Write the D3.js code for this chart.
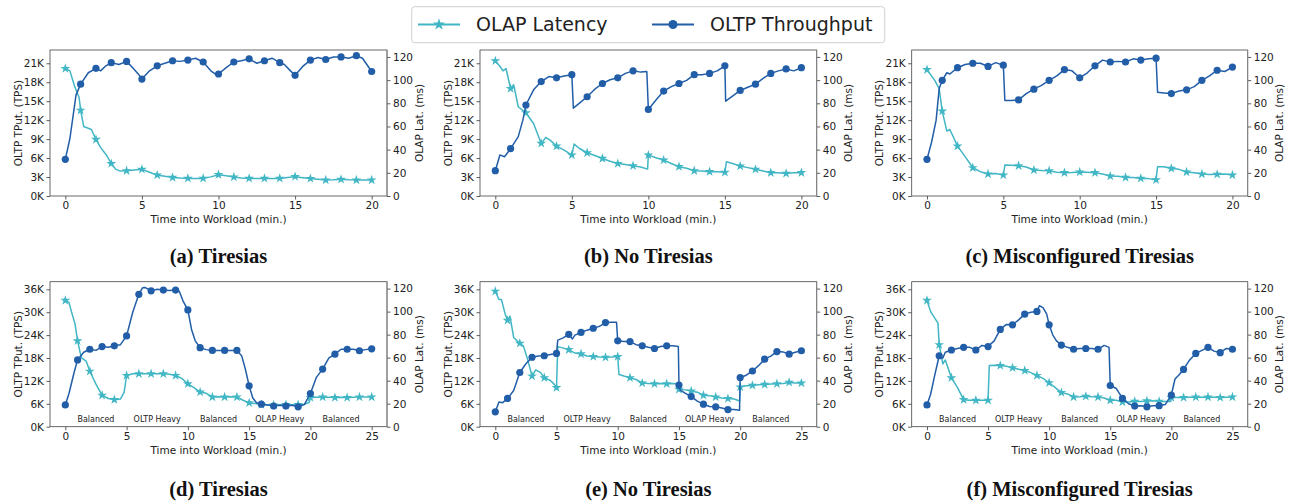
<!DOCTYPE html>
<html>
<head>
<meta charset="utf-8">
<script src="https://cdn.jsdelivr.net/npm/d3@7"></script>
<style>
  html, body { margin: 0; padding: 0; background: #fff; }
  svg { display: block; }
</style>
</head>
<body>
<svg id="chart" width="1289" height="502"></svg>
<script>
// ---------------- DATA (time in minutes, throughput in K TPS, latency in ms) ----------------
const seriesNames = ["OLAP Latency", "OLTP Throughput"];
const captions = ["(a) Tiresias", "(b) No Tiresias", "(c) Misconfigured Tiresias",
                  "(d) Tiresias", "(e) No Tiresias", "(f) Misconfigured Tiresias"];
const phaseLabels = ["Balanced", "OLTP Heavy", "Balanced", "OLAP Heavy", "Balanced"];
const phaseCenters = [2.5, 7.5, 12.5, 17.5, 22.5];
const xTicksTop = [0, 5, 10, 15, 20];
const xTicksBottom = [0, 5, 10, 15, 20, 25];
const yLeftTicksTop = [0, 3, 6, 9, 12, 15, 18, 21];
const yLeftTicksBottom = [0, 6, 12, 18, 24, 30, 36];
const yRightTicks = [0, 20, 40, 60, 80, 100, 120];

const aTput = [[0,5.8],[0.3,9.1],[0.7,16],[1,17.7],[1.5,19.5],[2,20.2],[2.3,19.8],[2.6,20.5],[3,21.1],[3.5,20.8],[4,21.3],[4.4,20.3],[4.8,19.2],[5,18.5],[5.5,19.8],[6,20.6],[6.5,21.0],[7,21.4],[7.5,21.3],[8,21.5],[8.5,21.8],[9,21.2],[9.5,19.8],[9.8,19.3],[10,19.3],[10.5,20.3],[11,21.2],[11.5,21.4],[12,21.7],[12.5,21.0],[13,21.4],[13.5,21.8],[14,21.1],[14.3,20.8],[14.7,19.8],[15,19.1],[15.5,20.5],[16,21.5],[16.5,21.9],[17,21.6],[17.5,22.0],[18,22.0],[18.5,21.8],[19,22.2],[19.4,21.8],[20,19.7]];
const aLat = [[0,110],[0.3,108],[0.6,95],[0.9,85],[1,74],[1.2,60],[1.7,57.4],[2,48.8],[2.3,42],[2.7,35],[3,28],[3.3,23],[3.6,21.5],[4,21.8],[4.5,22.5],[5,23],[5.5,20.5],[6,18],[6.5,17],[7,16],[7.5,15.5],[8,15.2],[8.5,15.2],[9,15.2],[9.5,16.5],[10,18.4],[10.5,17.5],[11,16.4],[11.5,15.5],[12,15.2],[12.5,15.2],[13,15.2],[13.5,15.2],[14,15.2],[14.5,16],[15,16.7],[15.5,15.8],[16,15],[16.5,14.5],[17,13.8],[17.5,14],[18,14.4],[18.5,14],[19,13.8],[19.5,13.8],[20,13.8]];

const bTput = [[0,4.0],[0.3,6.5],[0.6,6.2],[1,7.5],[1.5,9.4],[1.8,12],[2,14.4],[2.5,16.8],[3,18.1],[3.5,18.9],[4,18.7],[4.5,19.0],[5,19.2],[5.1,13.9],[5.5,14.7],[6,15.7],[6.5,16.9],[7,17.8],[7.5,18.4],[8,18.7],[8.5,19.4],[9,19.8],[9.5,19.6],[9.9,19.7],[10,13.7],[10.5,15.2],[11,16.6],[11.5,17.3],[12,17.8],[12.5,18.3],[13,19.2],[13.5,19.2],[14,19.4],[14.5,19.8],[15,20.6],[15.05,15.0],[15.5,15.8],[16,16.7],[16.5,17.2],[17,17.7],[17.5,18.6],[18,19.4],[18.5,19.8],[19,20.1],[19.5,19.8],[20,20.3]];
const bLat = [[0,116.6],[0.3,112],[0.5,108],[0.7,110],[1,92.7],[1.2,96],[1.5,77],[2,71.8],[2.5,62.6],[3,45.4],[3.3,50.5],[3.6,48],[4,43],[4.5,39.6],[5,35.3],[5.15,44.8],[5.5,41],[6,37.3],[6.5,35],[7,32.4],[7.5,30],[8,28],[8.5,27.2],[9,26],[9.5,25],[9.95,23.2],[10,35.3],[10.5,33],[11,31],[11.5,28],[12,25.3],[12.5,24],[13,21.8],[13.5,21.5],[14,21],[14.5,21],[15,20.4],[15.1,29.6],[15.5,28],[16,25.8],[16.5,24.5],[17,23],[17.5,21.5],[18,20.1],[18.5,20.1],[19,19.5],[19.5,20],[20,20.1]];

const cTput = [[0,5.8],[0.3,8.5],[0.6,12],[0.8,17],[1,18.3],[1.3,19.5],[1.5,19.3],[2,20.3],[2.5,20.8],[3,21.0],[3.5,21.0],[4,20.5],[4.5,21.1],[5,20.7],[5.1,15.1],[5.5,15.1],[6,15.2],[6.5,16.2],[7,16.9],[7.5,17.5],[8,18.3],[8.5,19.0],[9,20.0],[9.5,19.8],[10,18.7],[10.5,19.5],[11,20.6],[11.5,21.5],[12,21.2],[12.5,21.3],[13,21.2],[13.5,21.7],[14,21.5],[14.5,21.7],[15,21.8],[15.1,16.4],[15.5,16.3],[16,16.2],[16.5,16.6],[17,16.8],[17.5,17.3],[18,18.3],[18.5,19.0],[19,19.9],[19.5,19.7],[20,20.4]];
const cLat = [[0,109],[0.5,100],[0.8,92.7],[1,73.2],[1.3,56],[1.5,57.4],[2,43],[2.5,34],[3,24.4],[3.5,21],[4,19],[4.5,19.5],[5,18],[5.1,26.7],[5.5,26.5],[6,26.1],[6.5,25],[7,22.4],[7.5,22],[8,21.8],[8.5,20.5],[9,20.1],[9.5,20.2],[10,20.7],[10.5,20.5],[11,20.1],[11.5,19],[12,17.2],[12.5,17],[13,16],[13.5,16],[14,15.2],[14.5,15],[15,14],[15.1,25.3],[15.5,25.2],[16,23.8],[16.5,23],[17,20.7],[17.5,20],[18,19],[18.5,18.5],[19,18.7],[19.5,19],[20,18.1]];

const dTput = [[0,5.7],[0.3,8.7],[0.7,14],[1,17.5],[1.5,19.5],[2,20.3],[2.5,20.0],[3,21.0],[3.5,20.8],[4,21.2],[4.5,21.5],[5,23.8],[5.5,30],[6,34.7],[6.3,36.4],[6.5,36.5],[7,35.6],[7.5,36],[8,35.8],[8.5,35.7],[9,35.8],[9.3,35.5],[9.6,33],[10,30.6],[10.3,25.5],[10.6,22.5],[11,20.7],[11.5,20.2],[12,20.0],[12.5,20.0],[13,20.0],[13.5,20.0],[14,20.0],[14.4,18.5],[14.7,15],[15,10.7],[15.3,7.5],[15.6,6.3],[16,5.9],[16.5,5.7],[17,5.4],[17.5,5.6],[18,5.4],[18.5,5.6],[19,5.2],[19.5,5.8],[20,8.7],[20.5,13],[21,15.1],[21.5,18],[22,19.0],[22.5,20.3],[23,20.3],[23.5,20.3],[24,19.9],[24.5,20.2],[25,20.4]];
const dLat = [[0,109.7],[0.3,108],[0.5,100],[0.8,89],[1,74.6],[1.3,60],[1.7,57],[2,48.2],[2.5,37],[3,27.3],[3.5,24.5],[4,23.5],[4.5,24],[4.8,30],[5,44.5],[5.5,46],[6,46],[6.5,46],[7,46],[7.5,46],[8,46],[8.5,45.5],[9,44.5],[9.5,42],[10,37.3],[10.5,34],[11,30.1],[11.5,29],[12,25.8],[12.5,26],[13,25.8],[13.5,26],[14,25.8],[14.5,23],[15,20.7],[15.5,20.2],[16,19.2],[16.5,19],[17,18.7],[17.5,19],[18,19.2],[18.5,19],[19,19.2],[19.5,19.5],[19.9,21],[20,25.3],[20.5,25.5],[21,25.8],[21.5,25.5],[22,25.3],[22.5,25.5],[23,25.3],[23.5,25.5],[24,25.8],[24.5,25.8],[25,25.8]];

const eTput = [[0,3.9],[0.3,6.5],[0.6,6.3],[1,7.4],[1.5,9.5],[2,14.2],[2.5,16.5],[3,18.2],[3.5,18.5],[4,18.6],[4.5,18.9],[5,19.2],[5.1,22.7],[5.5,23.2],[6,24.2],[6.3,23],[6.5,24.0],[7,24.7],[7.5,25.3],[8,25.8],[8.5,26.3],[9,27.3],[9.5,27.4],[9.9,27.4],[10,22.5],[10.5,22.3],[11,22.3],[11.5,21.5],[12,21.2],[12.5,20.8],[13,20.5],[13.5,21.0],[14,21.2],[14.5,21.2],[14.95,21.0],[15,10.9],[15.1,9.6],[15.5,8.8],[16,7.9],[16.5,6.7],[17,5.9],[17.5,5.3],[18,5.2],[18.5,4.9],[19,4.5],[19.5,4.5],[19.95,4.3],[20,12.9],[20.5,13.5],[21,14.6],[21.5,16],[22,17.7],[22.5,18.5],[23,19.7],[23.5,19.6],[24,19.0],[24.5,19.5],[25,19.9]];
const eLat = [[0,117.7],[0.3,110.5],[0.5,110.5],[0.8,98],[1,92.4],[1.2,96],[1.5,77.5],[2,72.4],[2.3,70],[2.6,60],[3,44],[3.3,49.4],[3.7,47],[4,42.5],[4.5,40.2],[4.8,37],[5,33.9],[5.1,69.5],[5.5,68.5],[6,66.9],[6.5,64],[7,63.2],[7.5,61.5],[8,60.9],[8.5,60.5],[9,60.3],[9.5,60.5],[10,60.9],[10.1,45.4],[10.5,44],[11,42.5],[11.5,41],[12,37.9],[12.5,37.5],[13,37.3],[13.5,37.5],[14,37.3],[14.5,37.5],[14.9,37.3],[15,32.4],[15.5,32],[16,31],[16.5,30],[17,27.3],[17.5,27],[18,25.8],[18.5,25],[19,24.4],[19.5,24],[19.95,22.4],[20,34.5],[20.5,35.5],[21,35.9],[21.5,36.5],[22,36.7],[22.5,37],[23,37.3],[23.5,37.5],[24,38.5],[24.5,38],[25,37.9]];

const fTput = [[0,5.7],[0.3,8.5],[0.6,13],[1,18.6],[1.3,18.0],[1.5,19.5],[2,20.1],[2.5,20.5],[3,20.8],[3.5,20.8],[4,20.1],[4.5,21.3],[5,21.0],[5.5,22.5],[6,25.5],[6.5,26.8],[7,26.7],[7.5,28],[8,29.5],[8.5,30],[9,30.2],[9.2,31.7],[9.5,31.2],[9.8,29.5],[10,26.7],[10.3,24],[10.6,22.5],[11,21.4],[11.5,20.8],[12,20.3],[12.5,20.5],[13,20.5],[13.5,20.5],[14,20.3],[14.5,21.3],[14.9,20.8],[15,10.8],[15.5,10],[16,7.4],[16.5,6],[17,5.4],[17.5,5.5],[18,5.2],[18.5,5.5],[19,5.5],[19.5,5.8],[20,8.3],[20.3,12.5],[20.6,13.5],[21,15.0],[21.5,17.5],[22,19.2],[22.5,20.0],[23,20.8],[23.5,19.8],[24,19.4],[24.5,20.5],[25,20.3]];
const fLat = [[0,109.7],[0.3,100],[0.6,95],[0.9,90],[1,71.2],[1.3,54.5],[1.5,58],[2,42.5],[2.5,34],[3,23.5],[3.5,23],[4,23],[4.5,23],[5,23],[5.1,53.1],[5.5,53.5],[6,53.1],[6.5,52.5],[7,51.1],[7.5,50],[8,48.8],[8.5,47],[9,44.5],[9.5,42],[10,38.2],[10.5,34],[11,29.6],[11.5,28.5],[12,25.8],[12.5,26],[13,26.4],[13.5,26],[14,25.8],[14.5,25],[15,23],[15.5,23],[16,21.5],[16.5,21.5],[17,22],[17.5,22],[18,22.4],[18.5,22.5],[19,22],[19.5,22],[19.95,21.8],[20,25.3],[20.5,25.3],[21,25.3],[21.5,25.5],[22,25.8],[22.5,25.5],[23,25.8],[23.5,25.5],[24,25.3],[24.5,25.5],[25,25.8]];

// ---------------- STYLE / LAYOUT ----------------
const latColor = "#41b6c4";
const tputColor = "#225ea8";
const font = "DejaVu Sans, sans-serif";

const svg = d3.select("#chart");

const colX = [[50, 387], [480, 816.7], [911.7, 1247.7]];
const rows = [
  { top: 50, bottom: 196, xDom: [-1, 21], yLeftDom: [0, 23.1], xTicks: xTicksTop, yTicks: yLeftTicksTop, phases: false, captionY: 263 },
  { top: 281.7, bottom: 426.7, xDom: [-1.25, 26.25], yLeftDom: [0, 38.0], xTicks: xTicksBottom, yTicks: yLeftTicksBottom, phases: true, captionY: 496 }
];
const data = [
  [aTput, aLat], [bTput, bLat], [cTput, cLat],
  [dTput, dLat], [eTput, eLat], [fTput, fLat]
];

const star = d3.symbol().type(d3.symbolStar).size(30);

data.forEach(([tput, lat], i) => {
  const row = rows[Math.floor(i / 3)];
  const [x0, x1] = colX[i % 3];
  const x = d3.scaleLinear().domain(row.xDom).range([x0, x1]);
  const yL = d3.scaleLinear().domain(row.yLeftDom).range([row.bottom, row.top]);
  const yR = d3.scaleLinear().domain([0, 126]).range([row.bottom, row.top]);
  const g = svg.append("g");

  // Axes
  const xAxis = d3.axisBottom(x).tickValues(row.xTicks).tickSize(3.5).tickPadding(2.5).tickFormat(d3.format("d"));
  const yAxisL = d3.axisLeft(yL).tickValues(row.yTicks).tickSize(3.5).tickPadding(2.5).tickFormat(d => d + "K");
  const yAxisR = d3.axisRight(yR).tickValues(yRightTicks).tickSize(3.5).tickPadding(2.5).tickFormat(d3.format("d"));

  const gx = g.append("g").attr("transform", `translate(0,${row.bottom})`).call(xAxis);
  const gl = g.append("g").attr("transform", `translate(${x0},0)`).call(yAxisL);
  const gr = g.append("g").attr("transform", `translate(${x1},0)`).call(yAxisR);
  [gx, gl, gr].forEach(a => {
    a.select(".domain").remove();
    a.selectAll("text").attr("font-family", font).attr("font-size", 10.5).attr("fill", "#222");
    a.selectAll("line").attr("stroke", "#333").attr("stroke-width", 0.8);
  });

  // Frame
  g.append("rect").attr("x", x0).attr("y", row.top).attr("width", x1 - x0).attr("height", row.bottom - row.top)
    .attr("fill", "none").attr("stroke", "#444").attr("stroke-width", 0.8);
  g.append("line").attr("x1", x1).attr("x2", x1).attr("y1", row.top).attr("y2", row.bottom)
    .attr("stroke", "#888").attr("stroke-width", 0.9);

  // Phase labels
  if (row.phases) {
    g.selectAll(".phase").data(phaseLabels).enter().append("text")
      .attr("x", (d, k) => x(phaseCenters[k])).attr("y", yL(2.0)).attr("dy", "0.35em")
      .attr("text-anchor", "middle").attr("font-family", font).attr("font-size", 8).attr("fill", "#222")
      .text(d => d);
  }

  // Lines
  const lineL = d3.line().x(d => x(d[0])).y(d => yR(d[1]));
  const lineT = d3.line().x(d => x(d[0])).y(d => yL(d[1]));
  g.append("path").datum(lat).attr("d", lineL).attr("fill", "none").attr("stroke", latColor)
    .attr("stroke-width", 1.5).attr("stroke-linejoin", "round");
  g.selectAll(".st").data(lat.filter(d => Number.isInteger(d[0]))).enter().append("path")
    .attr("d", star).attr("transform", d => `translate(${x(d[0])},${yR(d[1])})`).attr("fill", latColor);

  g.append("path").datum(tput).attr("d", lineT).attr("fill", "none").attr("stroke", tputColor)
    .attr("stroke-width", 1.5).attr("stroke-linejoin", "round");
  g.selectAll(".ci").data(tput.filter(d => Number.isInteger(d[0]))).enter().append("circle")
    .attr("cx", d => x(d[0])).attr("cy", d => yL(d[1])).attr("r", 3.6).attr("fill", tputColor);

  // Axis labels
  const midY = (row.top + row.bottom) / 2;
  g.append("text").attr("transform", `translate(${x0 - 32},${midY}) rotate(-90)`).attr("dy", "0.35em")
    .attr("text-anchor", "middle").attr("font-family", font).attr("font-size", 10.5).attr("fill", "#222")
    .text("OLTP TPut. (TPS)");
  g.append("text").attr("transform", `translate(${x1 + 32},${midY}) rotate(-90)`).attr("dy", "0.35em")
    .attr("text-anchor", "middle").attr("font-family", font).attr("font-size", 10.5).attr("fill", "#222")
    .text("OLAP Lat. (ms)");
  g.append("text").attr("x", (x0 + x1) / 2).attr("y", row.bottom + 27).attr("text-anchor", "middle")
    .attr("font-family", font).attr("font-size", 10.5).attr("fill", "#222").text("Time into Workload (min.)");

  // Caption
  g.append("text").attr("x", (x0 + x1) / 2).attr("y", row.captionY).attr("text-anchor", "middle")
    .attr("font-family", "Liberation Serif, serif").attr("font-weight", "bold").attr("font-size", 20.5)
    .attr("fill", "#111").text(captions[i]);
});

// Legend
const leg = svg.append("g");
leg.append("rect").attr("x", 411.7).attr("y", 6.7).attr("width", 473).attr("height", 36).attr("rx", 3)
  .attr("fill", "#fff").attr("stroke", "#d0d0d0").attr("stroke-width", 1);
const legItems = [
  { name: seriesNames[0], color: latColor, x: 418, type: "star" },
  { name: seriesNames[1], color: tputColor, x: 652, type: "circle" }
];
legItems.forEach(it => {
  leg.append("line").attr("x1", it.x).attr("x2", it.x + 42).attr("y1", 24.5).attr("y2", 24.5)
    .attr("stroke", it.color).attr("stroke-width", 2);
  if (it.type === "star") {
    leg.append("path").attr("d", d3.symbol().type(d3.symbolStar).size(45)).attr("transform", `translate(${it.x + 21},24.5)`).attr("fill", it.color);
  } else {
    leg.append("circle").attr("cx", it.x + 21).attr("cy", 24.5).attr("r", 4.5).attr("fill", it.color);
  }
  leg.append("text").attr("x", it.x + 58).attr("y", 24.5).attr("dy", "0.35em").attr("font-family", font)
    .attr("font-size", 19).attr("fill", "#222").text(it.name);
});
</script>
</body>
</html>
